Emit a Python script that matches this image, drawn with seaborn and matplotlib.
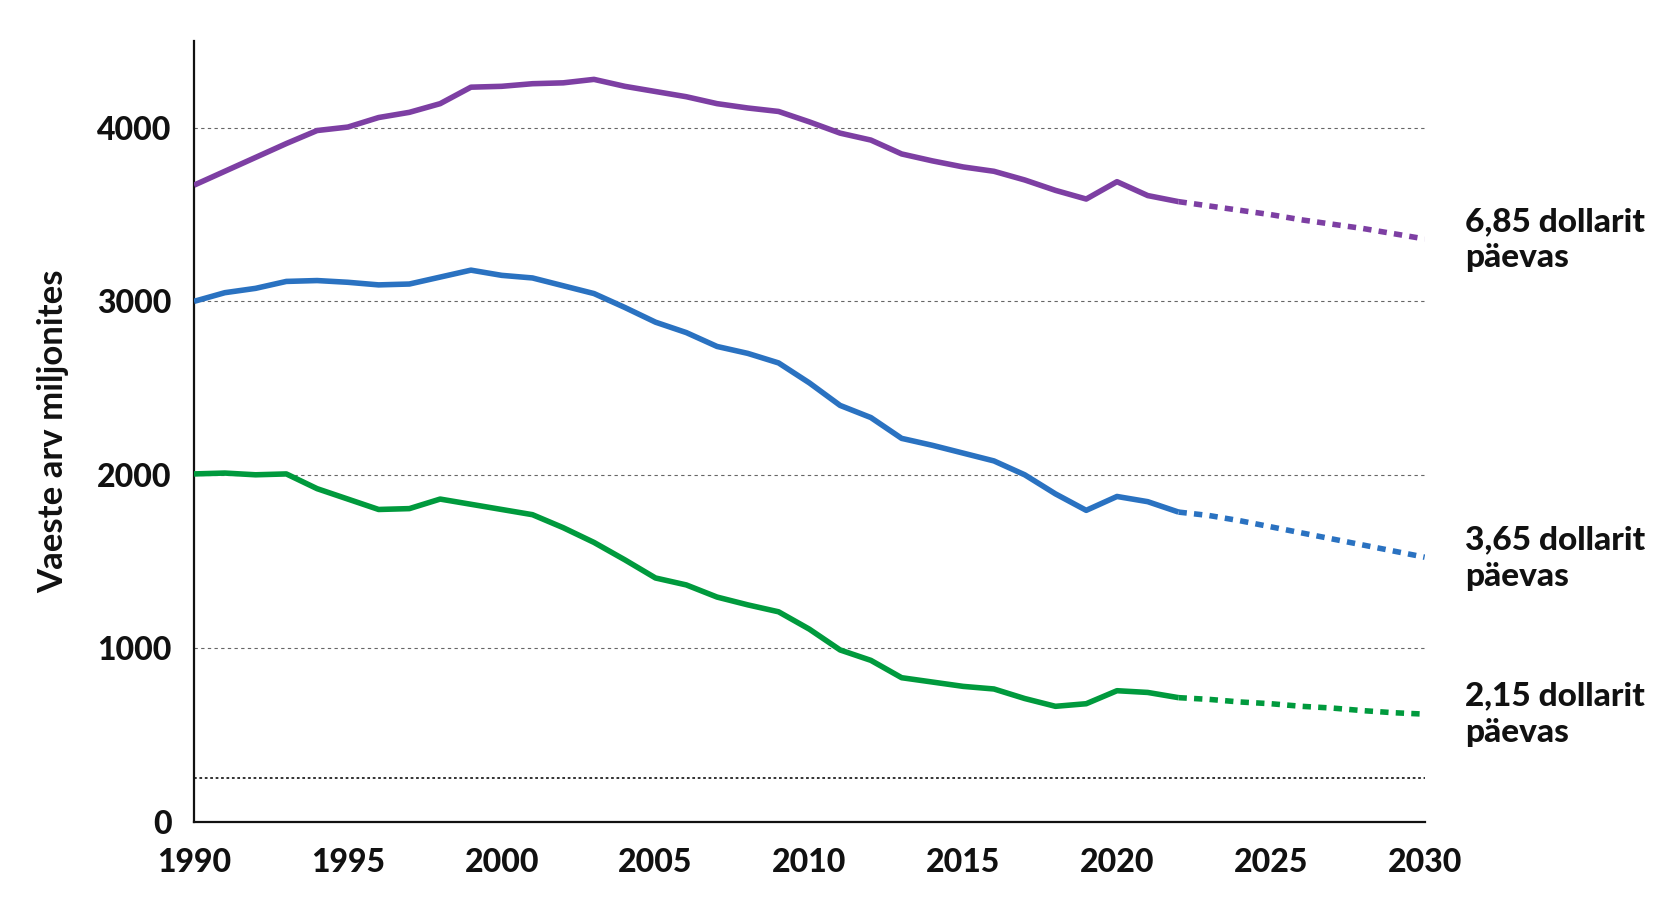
import matplotlib
matplotlib.use("Agg")
import matplotlib.pyplot as plt
import seaborn as sns
import pandas as pd
import numpy as np

years = list(range(1990, 2023))
proj_years = list(range(2022, 2031))

usd685 = [3670, 3750, 3830, 3910, 3985, 4005, 4060, 4090, 4140, 4235,
          4240, 4255, 4260, 4280, 4240, 4210, 4180, 4140, 4115, 4095,
          4035, 3970, 3930, 3850, 3810, 3775, 3750, 3700, 3640, 3590,
          3690, 3610, 3575]
usd685_proj = [3575, 3550, 3525, 3500, 3470, 3445, 3420, 3390, 3360]

usd365 = [3000, 3050, 3075, 3115, 3120, 3110, 3095, 3100, 3140, 3180,
          3150, 3135, 3090, 3045, 2965, 2880, 2820, 2740, 2700, 2645,
          2530, 2400, 2330, 2210, 2170, 2125, 2080, 2000, 1890, 1795,
          1875, 1845, 1785]
usd365_proj = [1785, 1765, 1735, 1700, 1665, 1630, 1595, 1560, 1525]

usd215 = [2005, 2010, 2000, 2005, 1920, 1860, 1800, 1805, 1860, 1830,
          1800, 1770, 1695, 1610, 1510, 1405, 1365, 1295, 1250, 1210,
          1110, 990, 930, 830, 805, 780, 765, 710, 665, 680,
          755, 745, 715]
usd215_proj = [715, 705, 690, 680, 665, 655, 640, 628, 620]

labels = ["6,85 dollarit\npäevas", "3,65 dollarit\npäevas", "2,15 dollarit\npäevas"]
label_y = [3355, 1520, 620]
colors = ["#7D3FA3", "#2A72C1", "#009A3D"]
x_ticks = [1990, 1995, 2000, 2005, 2010, 2015, 2020, 2025, 2030]
y_ticks = [0, 1000, 2000, 3000, 4000]
ylabel = "Vaeste arv miljonites"

sns.set_theme(style="white")
plt.rcParams['font.family'] = ['Lato', 'DejaVu Sans']

fig = plt.figure(figsize=(16.8, 9.16), dpi=100)
ax = fig.add_axes([0.1155, 0.103, 0.7325, 0.852])

# gridlines
for v in y_ticks[1:]:
    ax.axhline(v, color="#666666", lw=0.8, ls=(0, (3, 3)), zorder=1)
ax.axhline(250, color="#222222", lw=1.3, ls=(0, (1.5, 1.5)), zorder=1)

hist = [usd685, usd365, usd215]
proj = [usd685_proj, usd365_proj, usd215_proj]
for h, p, c in zip(hist, proj, colors):
    dfh = pd.DataFrame({"year": years, "value": h})
    dfp = pd.DataFrame({"year": proj_years, "value": p})
    sns.lineplot(data=dfh, x="year", y="value", color=c, lw=4.0, ax=ax,
                 solid_joinstyle="round", solid_capstyle="butt", zorder=3)
    sns.lineplot(data=dfp, x="year", y="value", color=c, lw=4.0, ax=ax,
                 dashes=False, zorder=3)
    ax.lines[-1].set_linestyle((0, (1.5, 1.3)))
    ax.lines[-1].set_dash_capstyle("butt")

for lab, ly in zip(labels, label_y):
    ax.text(2031.3, ly, lab, fontsize=24, fontweight="black", color="#111111",
            va="center", ha="left", linespacing=1.3, clip_on=False)

ax.set_xlim(1990, 2030)
ax.set_ylim(0, 4500)
ax.set_xticks(x_ticks)
ax.set_xticklabels([str(t) for t in x_ticks], fontsize=23, fontweight="black")
ax.set_yticks(y_ticks)
ax.set_yticklabels([str(t) for t in y_ticks], fontsize=23, fontweight="black")
ax.tick_params(axis="x", length=9, width=1.3, color="#111111", pad=10,
               direction="out", labelcolor="#111111")
ax.tick_params(axis="y", length=0, pad=16, labelcolor="#111111")
ax.set_yticks([0], minor=True)
ax.tick_params(axis="y", which="minor", length=9, width=1.3, color="#111111")
ax.set_xlabel("")
ax.set_ylabel(ylabel, fontsize=25, fontweight="bold", labelpad=20, color="#111111")

for s in ["top", "right"]:
    ax.spines[s].set_visible(False)
for s in ["left", "bottom"]:
    ax.spines[s].set_color("#111111")
    ax.spines[s].set_linewidth(1.6)
ax.grid(False)

fig.savefig("out.png", dpi=100)
